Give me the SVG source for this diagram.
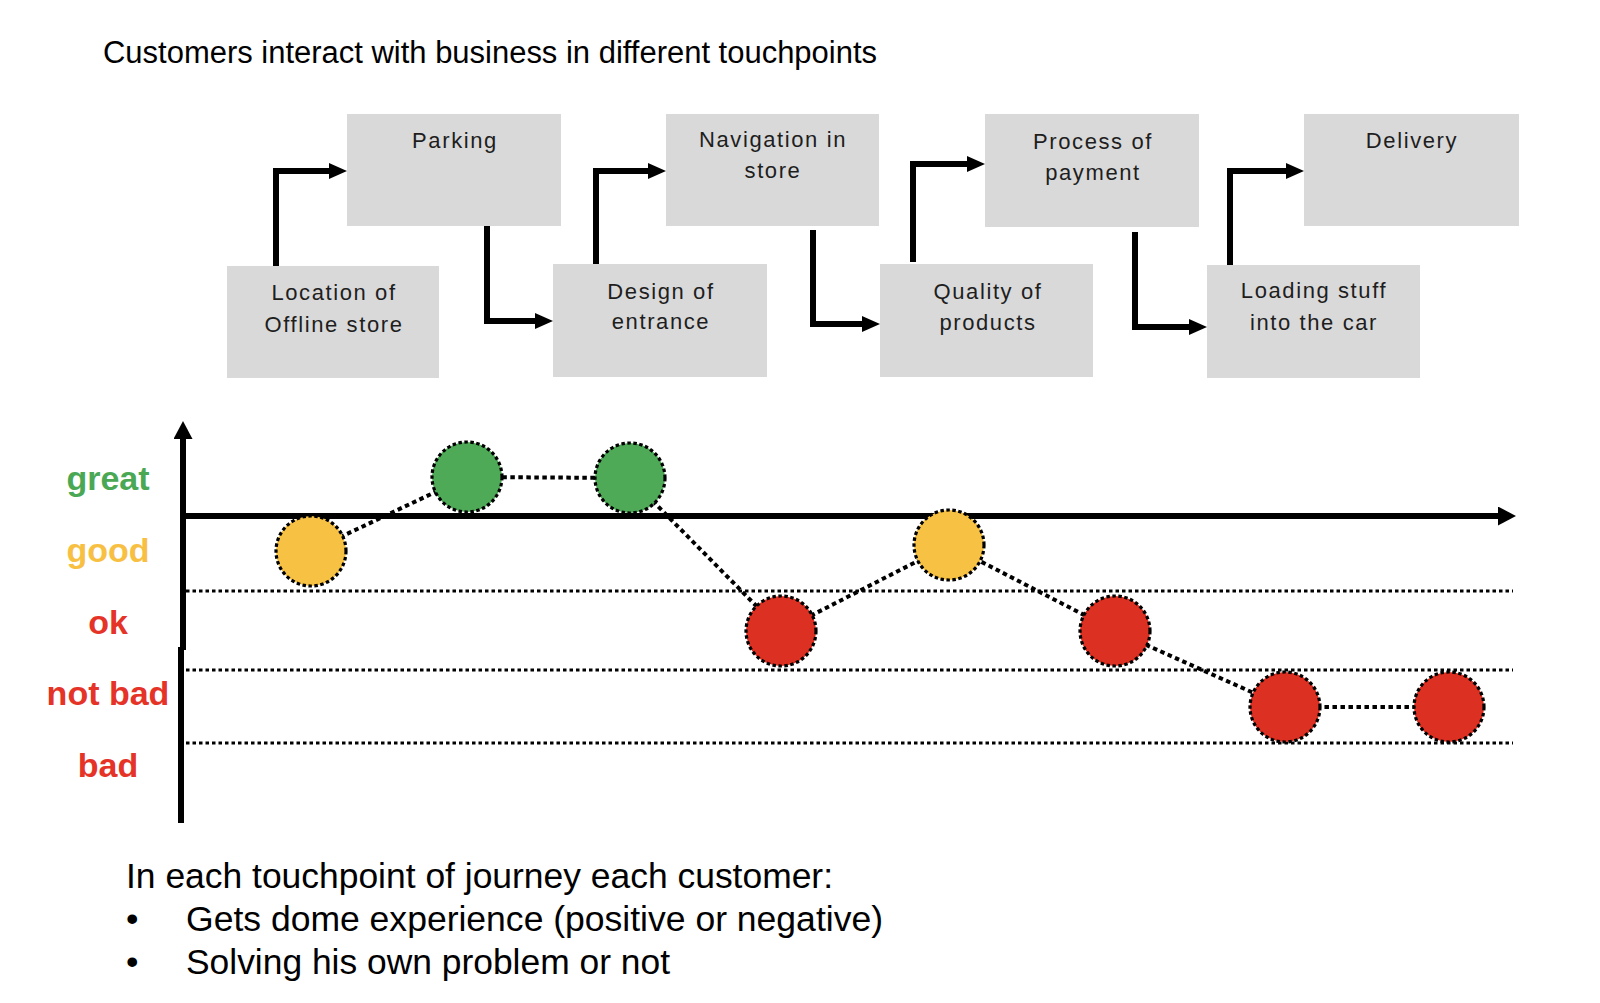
<svg xmlns="http://www.w3.org/2000/svg" width="1600" height="1003" viewBox="0 0 1600 1003">
<defs>
<marker id="ah" markerUnits="userSpaceOnUse" viewBox="0 0 18 16" refX="6" refY="8" markerWidth="18" markerHeight="16" orient="auto">
<path d="M0,0 L18,8 L0,16 Z" fill="#000"/>
</marker>
<marker id="axh" markerUnits="userSpaceOnUse" viewBox="0 0 18 19" refX="6" refY="9.5" markerWidth="18" markerHeight="19" orient="auto">
<path d="M0,0 L18,9.5 L0,19 Z" fill="#000"/>
</marker>
</defs>
<style>
.box{fill:#d9d9d9}
.bt{font-family:"Liberation Sans",Arial,sans-serif;font-size:22px;fill:#1e1e1e;text-anchor:middle;letter-spacing:1.6px}
.flow{fill:none;stroke:#000;stroke-width:6;stroke-linejoin:miter;marker-end:url(#ah)}
.axis{fill:none;stroke:#000;stroke-width:6}
.grid{stroke:#000;stroke-width:3;stroke-dasharray:3.5 3}
.link{stroke:#000;stroke-width:4;stroke-dasharray:4.5 3.5;fill:none}
.pt{stroke:#000;stroke-width:3.2;stroke-dasharray:3.5 2.5}
.g{fill:#4faa57}.y{fill:#f7c244}.r{fill:#dc3022}
.lab{font-family:"Liberation Sans",Arial,sans-serif;font-weight:bold;font-size:34px;text-anchor:middle}
.txt{font-family:"Liberation Sans",Arial,sans-serif;fill:#000}
</style>
<rect width="1600" height="1003" fill="#fff"/>
<text class="txt" x="103" y="63" font-size="31" textLength="774" lengthAdjust="spacingAndGlyphs">Customers interact with business in different touchpoints</text>

<g id="connectors">
<path class="flow" d="M276,266 V171 H335"/>
<path class="flow" d="M487,226 V321 H541"/>
<path class="flow" d="M596,264 V171 H654"/>
<path class="flow" d="M813,230 V324 H868"/>
<path class="flow" d="M913,262 V164 H973"/>
<path class="flow" d="M1135,232 V327 H1195"/>
<path class="flow" d="M1230,265 V171 H1292"/>
</g>

<g id="n-location"><rect class="box" x="227" y="266" width="212" height="112"/><text class="bt" x="334" y="300">Location of</text><text class="bt" x="334" y="332">Offline store</text></g>
<g id="n-parking"><rect class="box" x="347" y="114" width="214" height="112"/><text class="bt" x="455" y="148">Parking</text></g>
<g id="n-design"><rect class="box" x="553" y="264" width="214" height="113"/><text class="bt" x="661" y="299">Design of</text><text class="bt" x="661" y="329">entrance</text></g>
<g id="n-navigation"><rect class="box" x="666" y="114" width="213" height="112"/><text class="bt" x="773" y="147">Navigation in</text><text class="bt" x="773" y="178">store</text></g>
<g id="n-quality"><rect class="box" x="880" y="264" width="213" height="113"/><text class="bt" x="988" y="299">Quality of</text><text class="bt" x="988" y="330">products</text></g>
<g id="n-payment"><rect class="box" x="985" y="114" width="214" height="113"/><text class="bt" x="1093" y="149">Process of</text><text class="bt" x="1093" y="180">payment</text></g>
<g id="n-loading"><rect class="box" x="1207" y="265" width="213" height="113"/><text class="bt" x="1314" y="298">Loading stuff</text><text class="bt" x="1314" y="330">into the car</text></g>
<g id="n-delivery"><rect class="box" x="1304" y="114" width="215" height="112"/><text class="bt" x="1412" y="148">Delivery</text></g>

<g id="chart">
<line class="grid" x1="186" y1="591" x2="1513" y2="591"/>
<line class="grid" x1="186" y1="670" x2="1513" y2="670"/>
<line class="grid" x1="186" y1="743" x2="1513" y2="743"/>
<path class="axis" d="M183,650 V433" marker-end="url(#axh)"/>
<path class="axis" d="M181,823 V647"/>
<path class="axis" d="M180,516 H1504" marker-end="url(#axh)"/>
<text class="lab" x="108" y="490" fill="#4aa855">great</text>
<text class="lab" x="108" y="562" fill="#f8c043">good</text>
<text class="lab" x="108" y="634" fill="#e53327">ok</text>
<text class="lab" x="108" y="705" fill="#e53327">not bad</text>
<text class="lab" x="108" y="777" fill="#e53327">bad</text>
</g>

<g id="journey-links">
<polyline class="link" points="311,551 467,477 630,478 781,631 949,545 1115,631 1285,707 1449,707"/>
</g>
<g id="p1"><circle class="pt y" cx="311" cy="551" r="35"/></g>
<g id="p2"><circle class="pt g" cx="467" cy="477" r="35"/></g>
<g id="p3"><circle class="pt g" cx="630" cy="478" r="35"/></g>
<g id="p4"><circle class="pt r" cx="781" cy="631" r="35"/></g>
<g id="p5"><circle class="pt y" cx="949" cy="545" r="35"/></g>
<g id="p6"><circle class="pt r" cx="1115" cy="631" r="35"/></g>
<g id="p7"><circle class="pt r" cx="1285" cy="707" r="35"/></g>
<g id="p8"><circle class="pt r" cx="1449" cy="707" r="35"/></g>

<g id="notes">
<text class="txt" x="126" y="888" font-size="35.5" textLength="707" lengthAdjust="spacingAndGlyphs">In each touchpoint of journey each customer:</text>
<text class="txt" x="126" y="931" font-size="35.5">•</text>
<text class="txt" x="186" y="931" font-size="35.5" textLength="697" lengthAdjust="spacingAndGlyphs">Gets dome experience (positive or negative)</text>
<text class="txt" x="126" y="974" font-size="35.5">•</text>
<text class="txt" x="186" y="974" font-size="35.5" textLength="484" lengthAdjust="spacingAndGlyphs">Solving his own problem or not</text>
</g>
</svg>
